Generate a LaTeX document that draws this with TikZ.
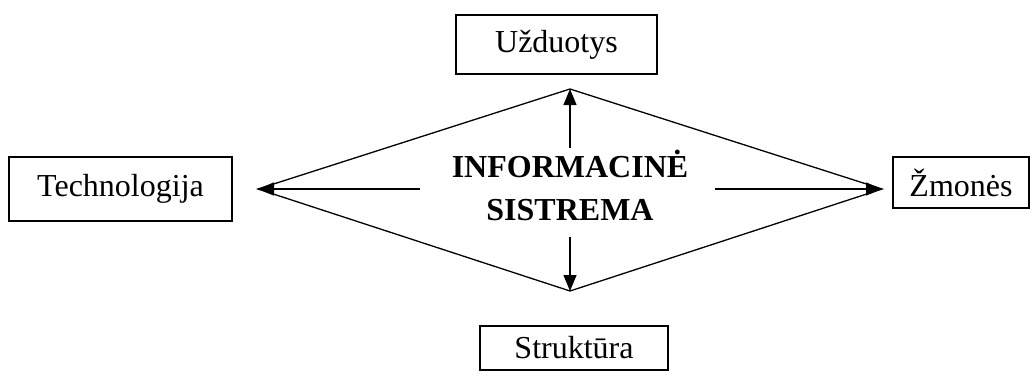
\documentclass[tikz,border=0pt]{standalone}
\usepackage{fontspec}
\setmainfont{Liberation Serif}
\usetikzlibrary{arrows.meta}
\begin{document}
\begin{tikzpicture}[x=1pt,y=-1pt,
  box/.style={draw,line width=1.3pt,inner sep=0pt,font=\fontsize{32}{36}\selectfont},
  edge/.style={line width=1.3pt},
  arr/.style={line width=1.3pt,-{Triangle[length=16pt,width=13pt]}}]
\useasboundingbox (0,0) rectangle (1031,372);
\node[box,minimum width=201pt,minimum height=59pt] (u) at (556.5,44.5) {Užduotys};
\node[box,minimum width=223pt,minimum height=64pt] (t) at (120.5,189) {Technologija};
\node[box,minimum width=136pt,minimum height=51pt] (z) at (961,182.5) {Žmonės};
\node[box,minimum width=188pt,minimum height=44pt] (s) at (574,348) {Struktūra};
\coordinate (dt) at (570,89);
\coordinate (db) at (570,291);
\coordinate (dl) at (258,189);
\coordinate (dr) at (882,189);
\draw[edge,line join=miter] (dt) -- (dr) -- (db) -- (dl) -- cycle;
\node[align=center,font=\fontsize{32}{43}\selectfont\bfseries] (c) at (570,185) {INFORMACINĖ\\SISTREMA};
\coordinate (au) at (570,148);
\coordinate (ad) at (570,237);
\coordinate (al) at (420,189);
\coordinate (ar) at (715,189);
\draw[arr] (au) -- (dt);
\draw[arr] (ad) -- (db);
\draw[arr] (al) -- (dl);
\draw[arr] (ar) -- (dr);
\end{tikzpicture}
\end{document}
